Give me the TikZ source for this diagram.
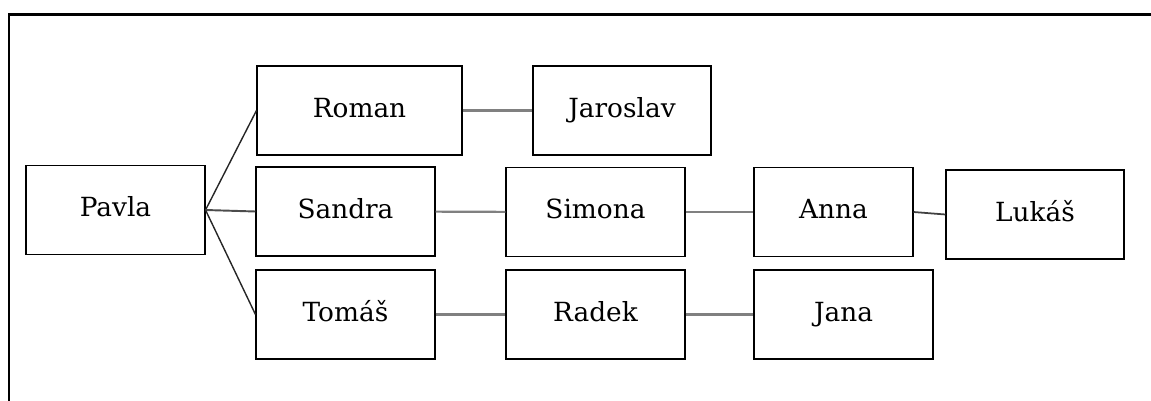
\documentclass[tikz,border=0pt]{standalone}
\usepackage{fontspec}
\setmainfont{DejaVu Serif}
\usetikzlibrary{calc}
\tikzset{
	person/.style={draw, line width=0.6pt, minimum width=3.58cm, minimum height=1.78cm, inner sep=0pt, text height=1.9ex, text depth=0.45ex, font=\fontsize{15}{18}\selectfont},
	link/.style={black!50, line width=1.7pt},
	fork/.style={black!85, line width=0.8pt}
}

\begin{document}
\begin{tikzpicture}
		%%%%% START %%%%%
		\useasboundingbox (0, 0) rectangle (23.02, -8.02);
		\draw[line width=1.4pt] (0.16, -0.29) -- (23.02, -0.29);
		\draw[line width=0.85pt] (0.18, -0.27) -- (0.18, -8.02);
		
		\node[person, minimum width=3.58cm] (pavla) at (2.31, -4.2) {Pavla};
		
		\node[person, minimum width=4.1cm] (roman) at (7.19, -2.21) {Roman};
		\node[person, minimum width=3.56cm] (jaroslav) at (12.44, -2.21) {Jaroslav};
		
		\node[person] (sandra) at (6.91, -4.23) {Sandra};
		\node[person] (simona) at (11.91, -4.24) {Simona};
		\node[person, minimum width=3.18cm] (anna) at (16.67, -4.24) {Anna};
		\node[person, minimum width=3.56cm] (lukas) at (20.70, -4.29) {Lukáš};
		
		\node[person] (tomas) at (6.91, -6.29) {Tomáš};
		\node[person] (radek) at (11.91, -6.29) {Radek};
		\node[person] (jana) at (16.87, -6.29) {Jana};
		
		\draw[fork] (pavla.east) -- (roman.west);
		\draw[fork, black!70, line width=1.1pt] (pavla.east) -- (sandra.west);
		\draw[fork] (pavla.east) -- (tomas.west);
		
		\draw[link] (roman) -- (jaroslav);
		\draw[link, line width=1.2pt] (sandra) -- (simona);
		\draw[link, line width=1.4pt] (simona) -- (anna);
		\draw[fork, black!75, line width=1pt] (anna.east) -- (lukas.west);
		\draw[link] (tomas) -- (radek);
		\draw[link] (radek) -- (jana);
		%%%%% END %%%%%
	\end{tikzpicture}
\end{document}
